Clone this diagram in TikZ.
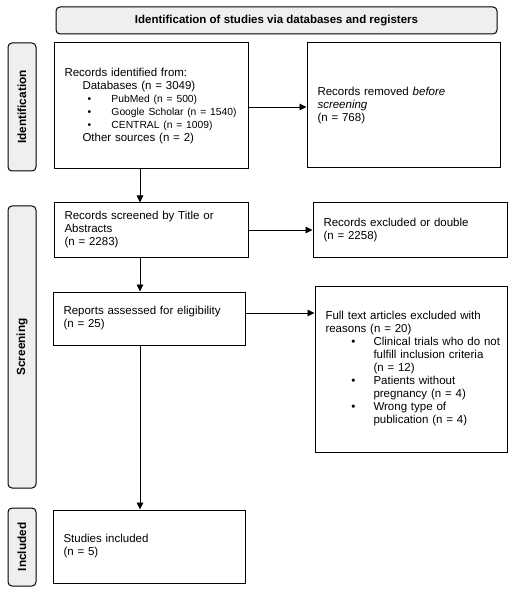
\documentclass[tikz,border=0pt]{standalone}
\usepackage{fontspec}
\setmainfont{Liberation Sans}
\usetikzlibrary{arrows.meta}
\definecolor{labelgray}{RGB}{239,239,239}
\newcommand{\bul}{\makebox[0pt]{\textbullet}}
\newcommand{\subf}{\fontsize{10.3}{12.5}\selectfont}
\begin{document}
\begin{tikzpicture}[x=1pt,y=-1pt,
  box/.style={draw, line width=1pt, inner xsep=10.5pt, inner ysep=0pt, align=left,
    font=\fontsize{11.5}{13}\selectfont},
  lab/.style={draw, fill=labelgray, rounded corners=4pt, line width=1pt, inner sep=0pt,
    font=\bfseries\fontsize{11.8}{13}\selectfont},
  arr/.style={line width=0.9pt, -{Triangle[length=7pt,width=6.5pt]}}]
\useasboundingbox (0,0) rectangle (515,593);

\node[lab, minimum width=441pt, minimum height=27pt, font=\bfseries\fontsize{11.5}{13}\selectfont] (hdr) at (276.5,20.5) {Identification of studies via databases and registers};

\node[lab, rotate=90, minimum width=128pt, minimum height=28pt] (idlab) at (22,107) {Identification};
\node[lab, rotate=90, minimum width=282pt, minimum height=28pt] (scrlab) at (22,347) {Screening};
\node[lab, rotate=90, minimum width=78pt, minimum height=28pt] (inclab) at (22,547) {Included};

\node[box, minimum width=194pt, minimum height=126pt, text width=173pt] (b1) at (151,106) {%
\mbox{Records identified from:}\\
\hspace*{18pt}\mbox{Databases (n = 3049)}\\
{\subf\hspace*{25pt}\bul\hspace*{22pt}\mbox{PubMed (n = 500)}}\\
{\subf\hspace*{25pt}\bul\hspace*{22pt}\mbox{Google Scholar (n = 1540)}}\\
{\subf\hspace*{25pt}\bul\hspace*{22pt}\mbox{CENTRAL (n = 1009)}}\\
\hspace*{18pt}\mbox{Other sources (n = 2)}};

\node[box, minimum width=193pt, minimum height=125pt, text width=172pt] (b2) at (403.5,105.5) {%
\mbox{Records removed \textit{before}}\\
\textit{screening}\\
(n = 768)};

\node[box, minimum width=194pt, minimum height=54pt, text width=173pt] (b3) at (151,230) {%
\mbox{Records screened by Title or}\\
Abstracts\\
(n = 2283)};

\node[box, minimum width=194pt, minimum height=54pt, text width=173pt] (b4) at (410,230) {%
\mbox{Records excluded or double}\\
(n = 2258)};

\node[box, minimum width=192pt, minimum height=53pt, text width=171pt] (b5) at (149,318.5) {%
\mbox{Reports assessed for eligibility}\\
(n = 25)};

\node[box, minimum width=192pt, minimum height=166pt, text width=171pt] (b6) at (411,369) {%
\mbox{Full text articles excluded with}\\
\mbox{reasons (n = 20)}\\
\hspace*{28pt}\bul\hspace*{20pt}\mbox{Clinical trials who do not}\\
\hspace*{48pt}\mbox{fulfill inclusion criteria}\\
\hspace*{48pt}(n = 12)\\
\hspace*{28pt}\bul\hspace*{20pt}\mbox{Patients without}\\
\hspace*{48pt}\mbox{pregnancy (n = 4)}\\
\hspace*{28pt}\bul\hspace*{20pt}\mbox{Wrong type of}\\
\hspace*{48pt}\mbox{publication (n = 4)}};

\node[box, minimum width=192pt, minimum height=73pt, text width=171pt] (b7) at (149,546.5) {%
Studies included\\
(n = 5)};

\coordinate (vx) at (140,0);
\coordinate (h1) at (0,107);
\coordinate (h3) at (0,313);

\draw[arr] (b1.east |- h1) -- (b2.west |- h1);
\draw[arr] (b1.south -| vx) -- (b3.north -| vx);
\draw[arr] (b3.east) -- (b4.west);
\draw[arr] (b3.south -| vx) -- (b5.north -| vx);
\draw[arr] (b5.east |- h3) -- (b6.west |- h3);
\draw[arr] (b5.south -| vx) -- (b7.north -| vx);
\end{tikzpicture}
\end{document}
